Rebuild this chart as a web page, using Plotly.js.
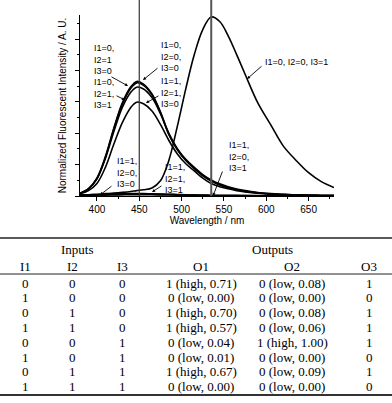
<!DOCTYPE html>
<html><head><meta charset="utf-8">
<script src="https://cdn.plot.ly/plotly-3.0.1.min.js"></script>
<style>html,body{margin:0;padding:0;background:#fff}#chart{width:392px;height:403px}</style>
</head><body><div id="chart"></div>
<script>
// ---------- spectra data ----------
const wavelength = [380,390,400,410,420,430,440,447,455,465,475,485,495,505,515,525,535,545,555,565,575,590,605,620,635,650,665,680];
const s000 = [0.015,0.04,0.10,0.22,0.38,0.52,0.61,0.64,0.625,0.57,0.47,0.345,0.26,0.20,0.155,0.115,0.085,0.063,0.047,0.036,0.027,0.018,0.012,0.008,0.006,0.004,0.003,0.002];
const s010 = [0.015,0.04,0.098,0.215,0.375,0.512,0.602,0.632,0.618,0.565,0.465,0.342,0.258,0.198,0.153,0.113,0.084,0.062,0.046,0.035,0.026,0.017,0.011,0.008,0.006,0.004,0.003,0.002];
const s011 = [0.015,0.04,0.095,0.21,0.36,0.495,0.58,0.608,0.598,0.55,0.46,0.35,0.265,0.205,0.16,0.12,0.09,0.068,0.051,0.039,0.03,0.02,0.013,0.009,0.006,0.004,0.003,0.002];
const s110 = [0.012,0.03,0.07,0.16,0.29,0.41,0.495,0.524,0.515,0.475,0.40,0.31,0.235,0.18,0.14,0.10,0.07,0.052,0.04,0.03,0.023,0.015,0.01,0.007,0.005,0.003,0.002,0.002];
const s001 = [0.005,0.007,0.01,0.013,0.016,0.02,0.025,0.03,0.035,0.045,0.085,0.20,0.39,0.60,0.79,0.93,1.0,0.975,0.895,0.79,0.68,0.52,0.40,0.28,0.20,0.13,0.08,0.047];
const s100 = [0.006,0.006,0.006,0.006,0.006,0.007,0.007,0.007,0.007,0.007,0.006,0.006,0.005,0.005,0.004,0.004,0.003,0.003,0.003,0.002,0.002,0.002,0.001,0.001,0.001,0.001,0.001,0.001];
const s101 = [0.004,0.005,0.007,0.009,0.011,0.012,0.013,0.013,0.013,0.012,0.011,0.01,0.008,0.007,0.005,0.004,0.003,0.003,0.002,0.002,0.002,0.001,0.001,0.001,0.001,0.001,0.001,0.001];
const s111 = [0.003,0.004,0.005,0.006,0.008,0.009,0.01,0.01,0.01,0.01,0.009,0.008,0.007,0.006,0.005,0.004,0.003,0.002,0.002,0.002,0.001,0.001,0.001,0.001,0.001,0.001,0.001,0.001];
const outputWavelengths = [450, 535];
const outputNames = ['Output 1', 'Output 2'];

// ---------- table data ----------
const tableHeaders = ['I1','I2','I3','O1','O2','O3'];
const I1 = [0,1,0,1,0,1,0,1];
const I2 = [0,0,1,1,0,0,1,1];
const I3 = [0,0,0,0,1,1,1,1];
const O1bit = [1,0,1,1,0,0,1,0];
const O1val = [0.71,0.00,0.70,0.57,0.04,0.01,0.67,0.00];
const O2bit = [0,0,0,0,1,0,0,0];
const O2val = [0.08,0.00,0.08,0.06,1.00,0.00,0.09,0.00];
const O3 = [1,0,1,1,1,0,1,0];

// ---------- layout geometry (pixels) ----------
const W = 392, H = 403;
const PL = 80, PR = 334, PT = 15, PB = 196;
const pxPerNm = (PR - PL) / 300;
const X = px => 380 + (px - PL) / pxPerNm;
const Y = py => (PB - py) / 179;
const yTop = (PB - PT) / 179;

const series = [
  [s000,'I1=0, I2=0, I3=0'],[s100,'I1=1, I2=0, I3=0'],[s010,'I1=0, I2=1, I3=0'],[s110,'I1=1, I2=1, I3=0'],
  [s001,'I1=0, I2=0, I3=1'],[s101,'I1=1, I2=0, I3=1'],[s011,'I1=0, I2=1, I3=1'],[s111,'I1=1, I2=1, I3=1']
];
const traces = series.map(([ys,name]) => ({
  type:'scatter', mode:'lines', x: wavelength, y: ys, name,
  line:{color:'#000', width:1.6, shape:'spline', smoothing:1},
  xaxis:'x', yaxis:'y', showlegend:false, hoverinfo:'skip'
}));

const annFont = {family:'Liberation Sans, Arial, sans-serif', size:9, color:'#000'};
const labels = [
  {t:'I1=0,<br>I2=1<br>I3=0', px:92, py:59},
  {t:'I1=0,<br>I2=1,<br>I3=1', px:92, py:93},
  {t:'I1=0,<br>I2=0,<br>I3=0', px:159, py:56.5},
  {t:'I1=1,<br>I2=1,<br>I3=0', px:159, py:92.5},
  {t:'I1=0, I2=0, I3=1', px:263, py:62},
  {t:'I1=1,<br>I2=0,<br>I3=0', px:115, py:172},
  {t:'I1=1,<br>I2=1,<br>I3=1', px:163, py:178},
  {t:'I1=1,<br>I2=0,<br>I3=1', px:227, py:156}
];
const arrows = [
  [110,76,128,86],[115,95,125,100],[159,67,143,80],[160,95,146,103],
  [263,65,247,79],[113,185,100,195],[163,185,152,192],[223,170,213,196]
];
const annotations = [];
labels.forEach(l => annotations.push({x:X(l.px), y:Y(l.py), xref:'x', yref:'y', text:l.t, showarrow:false,
  xanchor:'left', yanchor:'middle', align:'left', font:annFont}));
arrows.forEach(([tx,ty,hx,hy]) => annotations.push({x:X(hx), y:Y(hy), xref:'x', yref:'y', text:'', showarrow:true,
  ax:tx-hx, ay:ty-hy, arrowhead:2, arrowsize:0.7, arrowwidth:0.9, arrowcolor:'#000', standoff:0, startstandoff:0}));
outputWavelengths.forEach((w,i) => annotations.push({x:w, y:Y(8), xref:'x', yref:'y', text:outputNames[i], showarrow:false,
  xanchor:'left', yanchor:'middle', xshift:3, font:{family:'Liberation Sans, Arial, sans-serif', size:9.5, color:'#000'}}));

// ---------- table ----------
const S = 14.8;            // row spacing px
const row0 = 283;          // first row centre px
const K = py => (py - row0) / S;
const colX = [25, 72, 122, 201, 292, 369];
const tFont = {family:'Liberation Serif, Times New Roman, serif', size:13, color:'#000'};
const tAnn = (x, k, text) => ({x, y:k, xref:'x2', yref:'y2', text, showarrow:false, xanchor:'center', yanchor:'middle', font:tFont});
annotations.push(tAnn(77, K(250), 'Inputs'));
annotations.push(tAnn(272, K(250), 'Outputs'));
tableHeaders.forEach((h,c) => annotations.push(tAnn(colX[c], K(266), h)));
const fmt = (b,v) => `${b} (${b ? 'high' : 'low'}, ${v.toFixed(2)})`;
I1.forEach((_, r) => {
  const cells = [String(I1[r]), String(I2[r]), String(I3[r]), fmt(O1bit[r], O1val[r]), fmt(O2bit[r], O2val[r]), String(O3[r])];
  cells.forEach((t,c) => annotations.push(tAnn(colX[c], r, t)));
});

const shapes = [
  {type:'line', xref:'x', yref:'paper', x0:outputWavelengths[0], x1:outputWavelengths[0], y0:1-PB/H, y1:1, line:{color:'#333', width:1.2}},
  {type:'line', xref:'x', yref:'paper', x0:outputWavelengths[1], x1:outputWavelengths[1], y0:1-PB/H, y1:1, line:{color:'#555', width:2}},
  {type:'line', xref:'paper', yref:'y2', x0:0, x1:1, y0:K(238), y1:K(238), line:{color:'#222', width:1.5}},
  {type:'line', xref:'paper', yref:'y2', x0:0, x1:1, y0:K(274), y1:K(274), line:{color:'#222', width:1}},
  {type:'line', xref:'paper', yref:'y2', x0:0, x1:1, y0:K(395), y1:K(395), line:{color:'#333', width:2}}
];

const axFont = {family:'Liberation Sans, Arial, sans-serif', size:10, color:'#000'};
const layout = {
  width:W, height:H, margin:{l:0,r:0,t:0,b:0}, paper_bgcolor:'#fff', plot_bgcolor:'rgba(0,0,0,0)',
  showlegend:false, font:axFont,
  xaxis:{domain:[PL/W, PR/W], range:[380,680], showgrid:false, zeroline:false, showline:true, linecolor:'#000', linewidth:1.2,
    ticks:'outside', ticklen:4, tickwidth:1, tickcolor:'#000', tick0:400, dtick:50, tickfont:axFont,
    minor:{ticks:'outside', ticklen:2, tickwidth:1, tickcolor:'#000', tick0:375, dtick:25},
    title:{text:'Wavelength / nm', font:axFont, standoff:1}},
  yaxis:{domain:[1-PB/H, 1-PT/H], range:[0, yTop], showgrid:false, zeroline:false, showline:true, linecolor:'#000', linewidth:1.2,
    ticks:'outside', ticklen:4, tickwidth:1, tickcolor:'#000', tick0:0, dtick:31.4/179, showticklabels:false,
    minor:{ticks:'outside', ticklen:2, tickwidth:1, tickcolor:'#000', tick0:0, dtick:15.7/179},
    title:{text:'Normalized Fluorescent Intensity / A. U.', font:axFont, standoff:6}},
  xaxis2:{domain:[0,1], range:[0,W], visible:false, fixedrange:true},
  yaxis2:{domain:[0, 1-230/H], range:[K(403), K(230)], visible:false, fixedrange:true, anchor:'x2'},
  annotations, shapes
};
// invisible trace to activate the table axes
traces.push({type:'scatter', x:[0], y:[0], xaxis:'x2', yaxis:'y2', mode:'markers', marker:{opacity:0}, showlegend:false, hoverinfo:'skip'});

Plotly.newPlot('chart', traces, layout, {staticPlot:true, displayModeBar:false});
</script></body></html>
